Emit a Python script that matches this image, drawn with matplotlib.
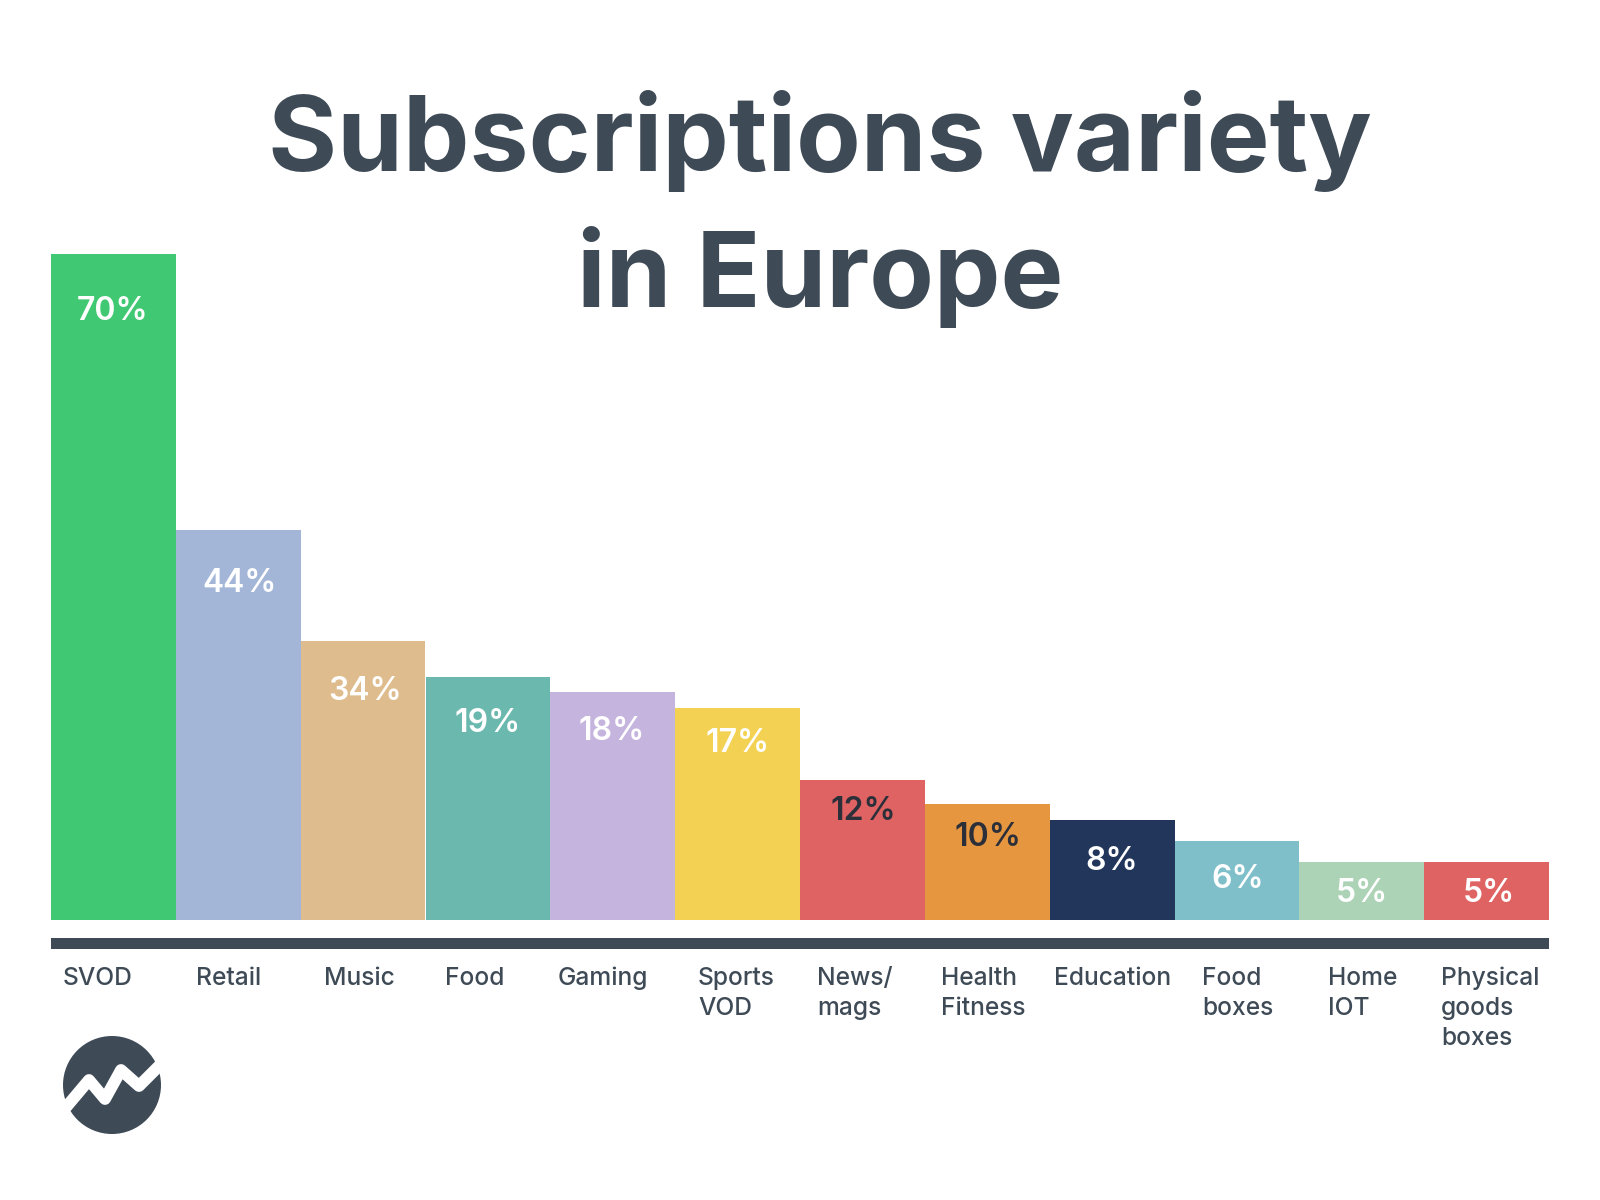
import matplotlib
matplotlib.use('Agg')
import matplotlib.pyplot as plt
from matplotlib.patches import Circle, Rectangle

categories = ['SVOD', 'Retail', 'Music', 'Food', 'Gaming', 'Sports\nVOD', 'News/\nmags',
              'Health\nFitness', 'Education', 'Food\nboxes', 'Home\nIOT', 'Physical\ngoods\nboxes']
# bar heights as drawn, the printed labels are not to scale in the original
heights = [70, 41, 29.3, 25.5, 24, 22.3, 14.7, 12.2, 10.5, 8.3, 6.1, 6.1]
value_labels = ['70%', '44%', '34%', '19%', '18%', '17%', '12%', '10%', '8%', '6%', '5%', '5%']
colors = ['#41C872', '#A3B6D8', '#DFBC8E', '#6BB9AE', '#C5B5DE', '#F3D153',
          '#E06363', '#E5963E', '#22365C', '#7EBFCA', '#ADD3B7', '#E06363']
label_colors = ['white'] * 6 + ['#2B2F3A', '#2B2F3A'] + ['white'] * 4

# layout, in pixels
dark = '#3E4A56'
value_y = [311, 583, 691, 723, 731, 744, 812, 838, 862, 880, 894, 894]
value_x = [113, 240, 365, 488, 612, 738, 863, 988, 1112, 1238, 1362, 1489]
cat_x = [63, 196, 324, 445, 558, 698, 817, 941, 1054, 1202, 1328, 1441]

fig = plt.figure(figsize=(16, 12), dpi=100)

ax = fig.add_axes([51 / 1600, 280 / 1200, 1498 / 1600, 666 / 1200])
ax.bar(range(len(heights)), heights, width=1.0, color=colors)
ax.set_xlim(-0.5, 11.5)
ax.set_ylim(0, 70)
ax.axis('off')

# overlay in pixel coordinates for title, labels and logo
over = fig.add_axes([0, 0, 1, 1])
over.set_xlim(0, 1600)
over.set_ylim(1200, 0)
over.axis('off')
over.patch.set_alpha(0)

over.text(820, 171, 'Subscriptions variety', ha='center', va='baseline', fontsize=76,
          family='Inter', weight='bold', color=dark)
over.text(820, 307, 'in Europe', ha='center', va='baseline', fontsize=76,
          family='Inter', weight='bold', color=dark)

for x, y, s, c in zip(value_x, value_y, value_labels, label_colors):
    over.text(x, y, s, ha='center', va='center', fontsize=23, family='Inter',
              weight='semibold', color=c)

over.add_patch(Rectangle((51, 938), 1498, 11, color=dark, lw=0))

for x, s in zip(cat_x, categories):
    for i, line in enumerate(s.split('\n')):
        over.text(x, 985 + 30 * i, line, ha='left', va='baseline', fontsize=17.7,
                  family='Inter', weight='medium', color=dark)

# logo
over.add_patch(Circle((112, 1085), 49, color=dark, lw=0))
zig_x = [62, 89, 105, 121, 139, 166]
zig_y = [1112, 1080, 1099, 1070, 1086, 1059]
over.plot(zig_x, zig_y, color='white', lw=8.5, solid_joinstyle='round', solid_capstyle='butt')

fig.savefig('out.png', dpi=100, facecolor='white')
